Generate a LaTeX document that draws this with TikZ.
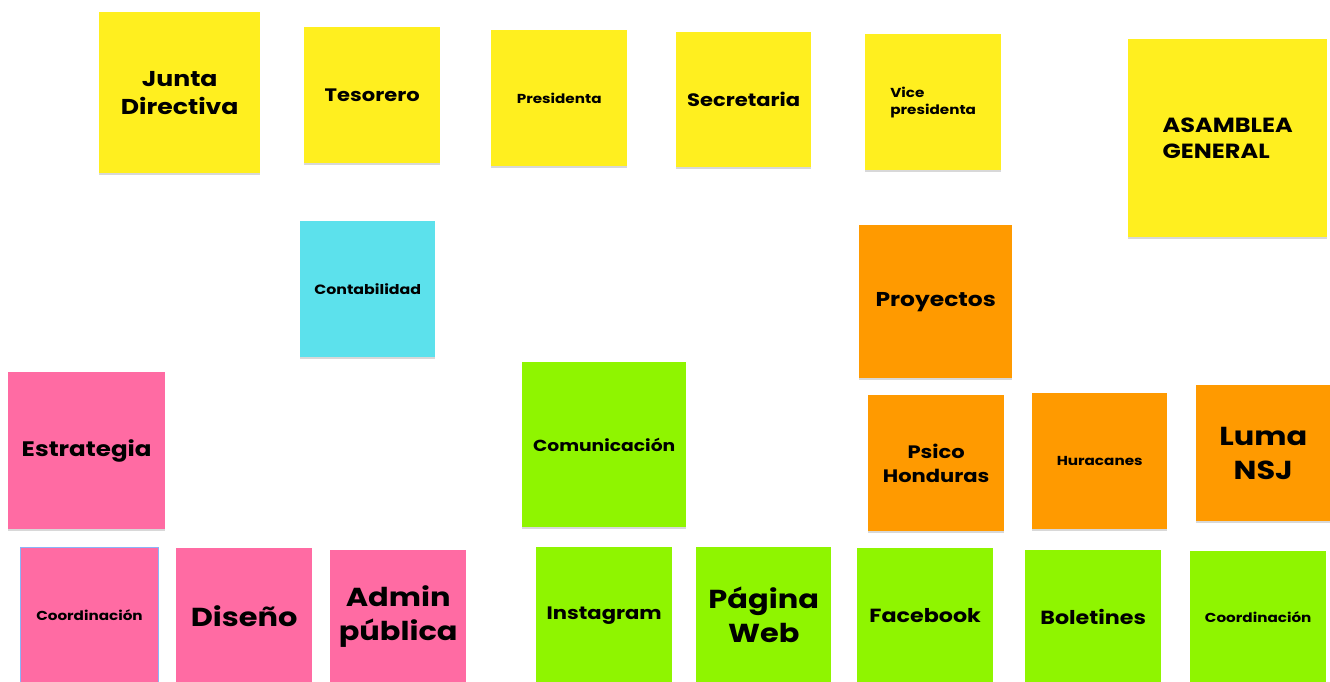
\documentclass[tikz,border=0pt]{standalone}
\usepackage{fontspec}
\setmainfont{Poppins}[BoldFont={* Bold}, FakeStretch=1.17]
\definecolor{nyellow}{HTML}{FFEF1F}
\definecolor{npink}{HTML}{FF6BA3}
\definecolor{norange}{HTML}{FF9A00}
\definecolor{ngreen}{HTML}{8FF500}
\definecolor{ncyan}{HTML}{5CE1EC}
\definecolor{nshadow}{HTML}{D8D8D8}
\definecolor{nselect}{HTML}{8AB4F8}
\tikzset{
  note/.style={anchor=north west, inner sep=0pt, align=center,
    text=black,
    preaction={fill=nshadow, transform canvas={yshift=-1.5pt}}},
  fs/.style={font=\fontsize{#1}{\fpeval{#1*1.3}}\selectfont\bfseries},
  fst/.style={font=\fontsize{#1}{\fpeval{#1*1.3}}\selectfont\bfseries}
}
\begin{document}
\begin{tikzpicture}[x=1pt,y=-1pt]
\useasboundingbox (0,0) rectangle (1330,681);
\fill[white] (0,0) rectangle (1330,681);
% yellow row
\node[note, fill=nyellow, minimum width=161pt, minimum height=161pt, fst=21.5] (junta) at (99,12) {Junta\\Directiva};
\node[note, fill=nyellow, minimum width=136pt, minimum height=136pt, fs=18] (tesorero) at (304,27) {Tesorero};
\node[note, fill=nyellow, minimum width=136pt, minimum height=136pt, fs=13] (presidenta) at (491,30) {Presidenta};
\node[note, fill=nyellow, minimum width=135pt, minimum height=135pt, fs=18] (secretaria) at (676,32) {Secretaria};
\node[note, fill=nyellow, minimum width=136pt, minimum height=136pt, fs=13, align=left] (vice) at (865,34) {Vice\\presidenta};
\node[note, fill=nyellow, minimum width=199pt, minimum height=198pt, fs=20.5, align=left] (asamblea) at (1128,39) {ASAMBLEA\\GENERAL};
% middle
\node[note, fill=ncyan, minimum width=135pt, minimum height=136pt, fs=13.5] (contab) at (300,221) {Contabilidad};
\node[note, fill=norange, minimum width=153pt, minimum height=153pt, fs=20] (proyectos) at (859,225) {Proyectos};
\node[note, fill=npink, minimum width=157pt, minimum height=157pt, fs=21] (estrategia) at (8,372) {Estrategia};
\node[note, fill=ngreen, minimum width=164pt, minimum height=165pt, fs=16] (comunic) at (522,362) {Comunicación};
\node[note, fill=norange, minimum width=136pt, minimum height=136pt, fs=18] (psico) at (868,395) {Psico\\Honduras};
\node[note, fill=norange, minimum width=135pt, minimum height=136pt, fs=13] (huracanes) at (1032,393) {Huracanes};
\node[note, fill=norange, minimum width=134pt, minimum height=136pt, fs=26] (luma) at (1196,385) {Luma\\NSJ};
% bottom row
\node[note, fill=npink, draw=nselect, line width=1pt, minimum width=138pt, minimum height=136pt, fs=13] (coordp) at (20,547) {Coordinación};
\node[note, fill=npink, minimum width=136pt, minimum height=135pt, fs=26] (diseno) at (176,548) {Diseño};
\node[note, fill=npink, minimum width=136pt, minimum height=133pt, fs=26] (admin) at (330,550) {Admin\\pública};
\node[note, fill=ngreen, minimum width=136pt, minimum height=136pt, fs=18] (insta) at (536,547) {Instagram};
\node[note, fill=ngreen, minimum width=135pt, minimum height=136pt, fs=26] (web) at (696,547) {Página\\Web};
\node[note, fill=ngreen, minimum width=136pt, minimum height=135pt, fs=19] (facebook) at (857,548) {Facebook};
\node[note, fill=ngreen, minimum width=136pt, minimum height=133pt, fs=19] (boletines) at (1025,550) {Boletines};
\node[note, fill=ngreen, minimum width=136pt, minimum height=132pt, fs=13] (coordg) at (1190,551) {Coordinación};
\end{tikzpicture}
\end{document}
